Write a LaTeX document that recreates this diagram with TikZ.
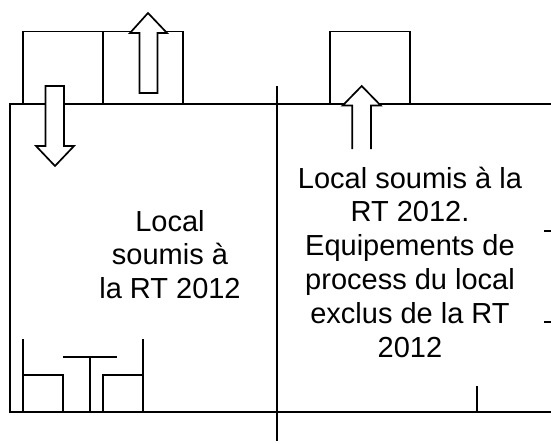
\documentclass[tikz,border=0pt]{standalone}
\usepackage{fontspec}
\setmainfont{Liberation Sans}
\begin{document}
\begin{tikzpicture}[x=1pt,y=-1pt,
  wall/.style={draw=black,line width=1.7pt,line cap=butt,line join=miter},
  flowarrow/.style={wall,fill=white},
  label/.style={align=center,inner sep=0pt,font=\fontsize{29}{33.8}\selectfont,text=black}]
\useasboundingbox (0,0) rectangle (551,444);
% rooms
\draw[wall] (23,104) rectangle (103,31.5);
\draw[wall] (103,104) rectangle (183,31.5);
\draw[wall] (330,104) rectangle (410,31.5);
\draw[wall] (551,104) -- (10,104) -- (10,412) -- (551,412);
\draw[wall] (276.7,86) -- (276.7,441);
\draw[wall] (477,386) -- (477,412);
\draw[wall] (544,231) -- (551,231);
\draw[wall] (544,322) -- (551,322);
% furniture
\draw[wall] (23,339) -- (23,412);
\draw[wall] (23,375) -- (63,375) -- (63,412);
\draw[wall] (63,357) -- (117,357);
\draw[wall] (90,357) -- (90,412);
\draw[wall] (103,412) -- (103,375) -- (143,375);
\draw[wall] (143,339) -- (143,412);
% arrows
\draw[flowarrow] (148,13) -- (167,33) -- (157.5,33) -- (157.5,93) -- (139.5,93) -- (139.5,33) -- (130,33) -- cycle;
\draw[flowarrow] (55,166) -- (36,146) -- (45.5,146) -- (45.5,86) -- (64,86) -- (64,146) -- (74,146) -- cycle;
\fill[white] (361.7,86) -- (380.7,105.5) -- (371,105.5) -- (371,149) -- (352.3,149) -- (352.3,105.5) -- (342.7,105.5) -- cycle;
\draw[wall] (352.3,149) -- (352.3,105.5) -- (342.7,105.5) -- (361.7,86) -- (380.7,105.5) -- (371,105.5) -- (371,149);
% labels
\node[label] (left) at (170,254.5) {Local\\soumis à\\la RT 2012};
\node[label] (right) at (410,262) {Local soumis à la\\RT 2012.\\Equipements de\\process du local\\exclus de la RT\\2012};
\end{tikzpicture}
\end{document}
